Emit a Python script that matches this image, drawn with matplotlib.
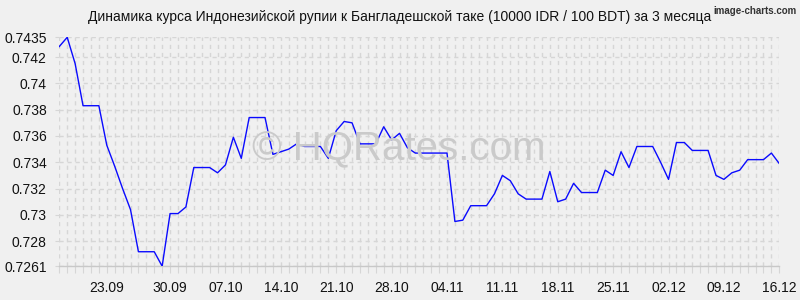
import matplotlib
matplotlib.use("Agg")
import matplotlib.pyplot as plt
from matplotlib.ticker import FixedLocator, MultipleLocator

plt.rcParams['font.family'] = ['Liberation Sans', 'DejaVu Sans']
plt.rcParams['lines.scale_dashes'] = False

# Daily rate, 10000 IDR / 100 BDT, 16.09 .. 16.12
rates = [
    0.7428, 0.7435, 0.7415, 0.7383, 0.7383, 0.7383, 0.7353, 0.7337, 0.7320, 0.7304,
    0.7272, 0.7272, 0.7272, 0.7261, 0.7301, 0.7301, 0.7306, 0.7336, 0.7336, 0.7336,
    0.7332, 0.7338, 0.7359, 0.7343, 0.7374, 0.7374, 0.7374, 0.7346, 0.7348, 0.7350,
    0.7354, 0.7352, 0.7352, 0.7352, 0.7343, 0.7364, 0.7371, 0.7370, 0.7354, 0.7354,
    0.7354, 0.7367, 0.7357, 0.7362, 0.7351, 0.7347, 0.7347, 0.7347, 0.7347, 0.7347,
    0.7295, 0.7296, 0.7307, 0.7307, 0.7307, 0.7316, 0.7330, 0.7326, 0.7316, 0.7312,
    0.7312, 0.7312, 0.7333, 0.7310, 0.7312, 0.7324, 0.7317, 0.7317, 0.7317, 0.7334,
    0.7330, 0.7348, 0.7336, 0.7352, 0.7352, 0.7352, 0.7340, 0.7327, 0.7355, 0.7355,
    0.7349, 0.7349, 0.7349, 0.7330, 0.7327, 0.7332, 0.7334, 0.7342, 0.7342, 0.7342,
    0.7347, 0.7339,
]
days = list(range(len(rates)))

x_tick_pos = [6, 14, 21, 28, 35, 42, 49, 56, 63, 70, 77, 84, 91]
x_tick_labels = ['23.09', '30.09', '07.10', '14.10', '21.10', '28.10', '04.11',
                 '11.11', '18.11', '25.11', '02.12', '09.12', '16.12']
y_ticks = [0.7261, 0.728, 0.730, 0.732, 0.734, 0.736, 0.738, 0.740, 0.742, 0.7435]
y_tick_labels = ['0.7261', '0.728', '0.73', '0.732', '0.734', '0.736', '0.738',
                 '0.74', '0.742', '0.7435']

title = 'Динамика курса Индонезийской рупии к Бангладешской таке (10000 IDR / 100 BDT) за 3 месяца'

W, H = 800, 300
bg = '#f0f0f0'
fig = plt.figure(figsize=(8, 3), dpi=100, facecolor=bg)
ax = fig.add_axes([59.3 / W, 33.8 / H, 720 / W, 228.9 / H])
ax.set_facecolor(bg)

ax.set_xlim(0, len(rates) - 1)
ax.set_ylim(min(rates), max(rates))

ax.xaxis.set_major_locator(FixedLocator(x_tick_pos))
ax.xaxis.set_minor_locator(MultipleLocator(1))
ax.set_xticklabels(x_tick_labels)
ax.set_yticks(y_ticks)
ax.set_yticklabels(y_tick_labels)

gridc = '#d6d6d6'
ax.grid(True, axis='x', which='both', color=gridc, linewidth=1.0, linestyle=(0, (3.0, 2.8)))
ax.grid(True, axis='y', which='major', color=gridc, linewidth=1.0, linestyle=(0, (3.0, 2.8)))
ax.set_axisbelow(True)

for s in ['top', 'right', 'left']:
    ax.spines[s].set_visible(False)
ax.spines['bottom'].set_color('#c8c8c8')
ax.spines['bottom'].set_linewidth(1.0)

ax.tick_params(axis='x', which='both', length=5, color=gridc, width=0.8,
               labelsize=10, labelcolor='#111111', pad=6)
ax.tick_params(axis='y', which='major', length=3, color=gridc, width=0.8,
               labelsize=10, labelcolor='#111111', pad=6)

# watermark
fig.text(399 / W, 1 - 160 / H, '© HQRates.com', fontsize=29, color='#cacaca',
         ha='center', va='baseline', zorder=0)

ax.plot(days, rates, color='#0a0aff', linewidth=1.0, zorder=5)

fig.text(400 / W, 1 - 17 / H, title, fontsize=10, color='#111111', ha='center', va='center')
fig.text(797 / W, 1 - 11 / H, 'image-charts.com', fontsize=7, fontweight='bold',
         color='#333333', ha='right', va='center')

fig.savefig('out.png', dpi=100, facecolor=bg)
